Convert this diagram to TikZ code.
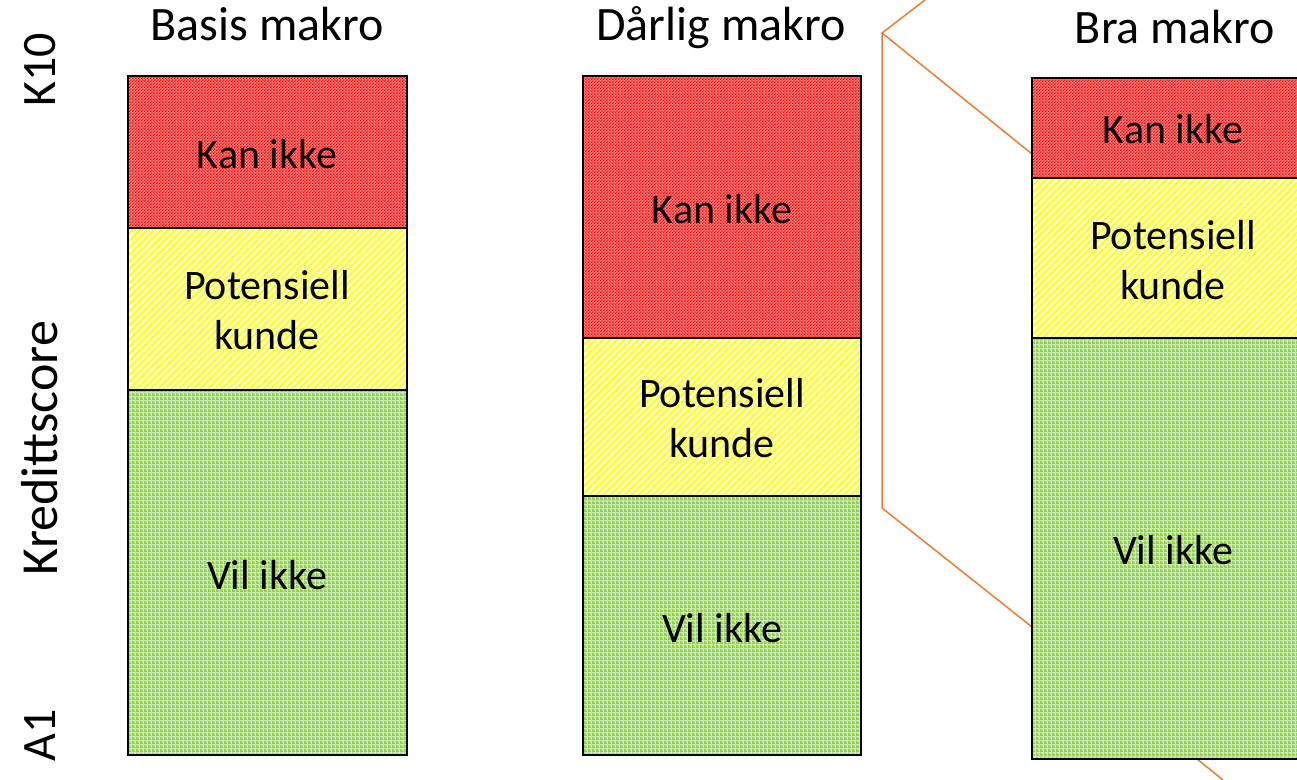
\documentclass[tikz,border=0pt]{standalone}
\usepackage{fontspec}
\setmainfont{Carlito}
\usetikzlibrary{patterns, patterns.meta}
\definecolor{kanred}{HTML}{FF0000}
\definecolor{potyellow}{HTML}{FFFF00}
\definecolor{vilgreen}{HTML}{92D050}
\definecolor{zoomorange}{HTML}{ED7D31}
\pgfdeclarepatternformonly{finechecks}{\pgfpointorigin}{\pgfqpoint{1.4pt}{1.4pt}}{\pgfqpoint{1.4pt}{1.4pt}}{%
  \pgfpathrectangle{\pgfpointorigin}{\pgfqpoint{0.7pt}{0.7pt}}%
  \pgfpathrectangle{\pgfqpoint{0.7pt}{0.7pt}}{\pgfqpoint{0.7pt}{0.7pt}}%
  \pgfusepath{fill}}
\pgfdeclarepatternformonly{bigchecks}{\pgfpointorigin}{\pgfqpoint{2pt}{2pt}}{\pgfqpoint{2pt}{2pt}}{%
  \pgfpathrectangle{\pgfpointorigin}{\pgfqpoint{2pt}{1pt}}%
  \pgfpathrectangle{\pgfqpoint{0pt}{1pt}}{\pgfqpoint{1pt}{1pt}}%
  \pgfusepath{fill}}
\tikzstyle{kan} = [draw=black, line width=1pt, preaction={fill=kanred!45}, pattern=finechecks, pattern color=kanred]
\tikzstyle{pot} = [draw=black, line width=1pt, preaction={fill=potyellow!25}, pattern={Lines[angle=45, distance=2.5pt, line width=0.8pt]}, pattern color=potyellow]
\tikzstyle{vil} = [draw=black, line width=1pt, preaction={fill=vilgreen!45}, pattern=bigchecks, pattern color=vilgreen]
\tikzstyle{band} = [font=\fontsize{21}{25}\selectfont, align=center]
\tikzstyle{title} = [font=\fontsize{24}{28}\selectfont, anchor=base]
\tikzstyle{axis} = [font=\fontsize{24}{28}\selectfont, rotate=90]
\tikzstyle{zoomline} = [draw=zoomorange, line width=0.75pt]

\begin{document}
\begin{tikzpicture}[x=0.5pt, y=-0.5pt]
\useasboundingbox (0,0) rectangle (1297,780);

% axis
\node (top) [axis] at (40,70) {K10};
\node (score) [axis, font=\fontsize{26}{30}\selectfont] at (40,448) {Kredittscore};
\node (bottom) [axis] at (40,735) {A1};

% zoom lines
\coordinate (zcorner) at (882,33);
\coordinate (zlow) at (882,508);
\draw[zoomline] (925,0) -- (zcorner) -- (1032,154);
\draw[zoomline] (zcorner) -- (zlow) -- (1032,627);
\draw[zoomline] (1197,759) -- (1223,780);

% basis
\node (t1) [title] at (267,41) {Basis makro};
\draw[kan] (128,76) rectangle (407,228);
\draw[pot] (128,228) rectangle (407,390);
\draw[vil] (128,390) rectangle (407,755);
\node (k1) [band] at (267,154) {Kan ikke};
\node (p1) [band] at (267,310) {Potensiell\\kunde};
\node (v1) [band] at (267,575) {Vil ikke};

% daarlig
\node (t2) [title] at (721,41) {Dårlig makro};
\draw[kan] (583,76) rectangle (861,338);
\draw[pot] (583,338) rectangle (861,496);
\draw[vil] (583,496) rectangle (861,755);
\node (k2) [band] at (722,209) {Kan ikke};
\node (p2) [band] at (722,418) {Potensiell\\kunde};
\node (v2) [band] at (722,628) {Vil ikke};

% bra
\node (t3) [title] at (1175,44) {Bra makro};
\draw[kan] (1032,78) rectangle (1311,178);
\draw[pot] (1032,178) rectangle (1311,338);
\draw[vil] (1032,338) rectangle (1311,759);
\node (k3) [band] at (1173,129) {Kan ikke};
\node (p3) [band] at (1173,260) {Potensiell\\kunde};
\node (v3) [band] at (1173,550) {Vil ikke};

\end{tikzpicture}
\end{document}
